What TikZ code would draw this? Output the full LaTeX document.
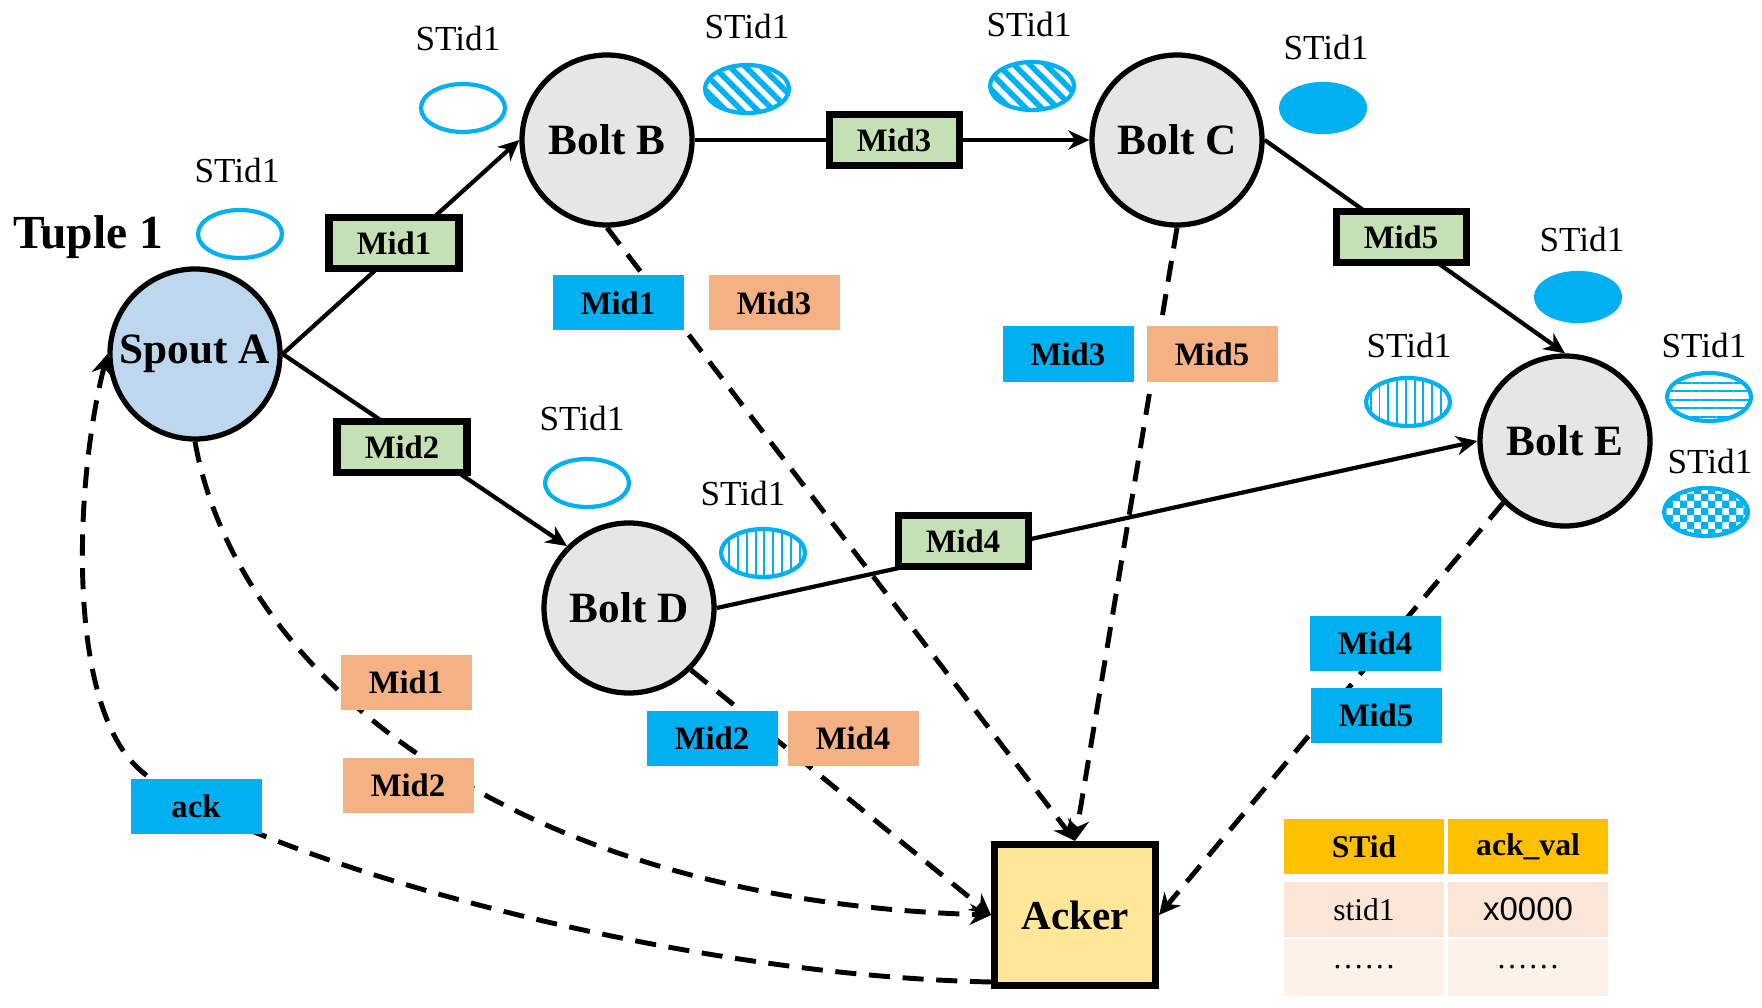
\documentclass[tikz,border=0pt]{standalone}
\usepackage{fontspec}
\setmainfont{Liberation Serif}
\newfontfamily\arialfont{Liberation Sans}
\usepackage{tikz}
\usetikzlibrary{arrows.meta,positioning,shapes.geometric,patterns,patterns.meta}
\usepackage{xcolor}
\definecolor{spoutblue}{RGB}{189,215,238}
\definecolor{boltgray}{RGB}{231,230,230}
\definecolor{midgreen}{RGB}{197,224,180}
\definecolor{ackblue}{RGB}{0,176,240}
\definecolor{ackorange}{RGB}{244,177,131}
\definecolor{ackeryellow}{RGB}{255,230,153}
\definecolor{tabhead}{RGB}{255,192,0}
\definecolor{tabrow}{RGB}{251,229,214}
\definecolor{tabrowlight}{RGB}{253,242,234}
\pgfdeclarepatternformonly{smallchecker}{\pgfqpoint{-1pt}{-1pt}}{\pgfqpoint{5pt}{5pt}}{\pgfqpoint{4pt}{4pt}}{
	\pgfpathrectangle{\pgfpointorigin}{\pgfqpoint{2.05pt}{2.05pt}}
	\pgfpathrectangle{\pgfqpoint{2pt}{2pt}}{\pgfqpoint{2.05pt}{2.05pt}}
	\pgfusepath{fill}}

\begin{document}
\begin{tikzpicture}[
	bolt/.style={circle, draw, line width=1.5pt, fill=boltgray, minimum size=1.70cm,
		inner sep=0pt, font=\fontsize{12.3}{14}\selectfont\bfseries},
	mid/.style={draw, line width=2pt, fill=midgreen, minimum width=1.30cm, minimum height=0.51cm,
		inner sep=0pt, font=\fontsize{9.3}{11}\selectfont\bfseries},
	tag/.style={minimum width=1.31cm, minimum height=0.55cm, inner sep=0pt,
		font=\fontsize{9.3}{11}\selectfont\bfseries},
	btag/.style={tag, fill=ackblue},
	otag/.style={tag, fill=ackorange},
	stid/.style={ellipse, draw=ackblue, line width=1.2pt, minimum width=0.84cm,
		minimum height=0.48cm, inner sep=0pt},
	stidtxt/.style={inner sep=0pt, font=\fontsize{10}{12}\selectfont},
	diag/.style={pattern={Lines[angle=-45, distance=3.2pt, line width=1.6pt]}, pattern color=ackblue},
	vlines/.style={pattern={Lines[angle=90, distance=2.5pt, line width=0.55pt]}, pattern color=ackblue},
	hlines/.style={pattern={Lines[angle=0, distance=2.4pt, line width=0.55pt]}, pattern color=ackblue},
	checks/.style={pattern=smallchecker, pattern color=ackblue},
	arr/.style={-{Stealth[length=6pt, width=5.5pt]}, line width=1.2pt},
	darr/.style={-{Stealth[length=6pt, width=6pt]}, line width=1.4pt, dash pattern=on 6pt off 3.6pt},
	cell/.style={minimum width=1.60cm, minimum height=0.55cm, inner sep=0pt,
		font=\fontsize{9}{11}\selectfont}
]
	\path[use as bounding box, fill=white] (0, 0) rectangle (17.62, 10.07);
	\node[bolt, fill=spoutblue] (spout) at (1.95, 6.53) {Spout A};
	\node[bolt] (boltB) at (6.07, 8.67) {Bolt B};
	\node[bolt] (boltC) at (11.77, 8.67) {Bolt C};
	\node[bolt] (boltD) at (6.29, 3.99) {Bolt D};
	\node[bolt] (boltE) at (15.65, 5.66) {Bolt E};
	\node[draw, line width=2pt, fill=ackeryellow, minimum width=1.61cm, minimum height=1.41cm,
		font=\fontsize{11.7}{14}\selectfont\bfseries] (acker) at (10.75, 0.92) {Acker};
	\node[font=\fontsize{13.5}{15}\selectfont\bfseries] (tuple) at (0.88, 7.70) {Tuple 1};

	\draw[arr] (spout.east) -- (boltB.west);
	\draw[arr] (spout.east) -- (boltD.north west);
	\draw[arr] (boltB.east) -- (boltC.west);
	\draw[arr] (boltC.east) -- (boltE.north);
	\draw[arr] (boltD.east) -- (boltE.west);

	\draw[darr] (boltB.south) -- (acker.north);
	\draw[darr] (boltC.south) -- (acker.north);
	\draw[darr] (boltD.south east) -- (acker.west);
	\draw[darr] (boltE.south west) -- (acker.east);
	\draw[darr] (spout.south) .. controls (2.35, 3.40) and (5.00, 1.07) .. (acker.west);
	\draw[darr] ([yshift=2pt]acker.south west) .. controls (6.50, 0.32) and (2.30, 1.58) .. (1.40, 2.37)
		.. controls (0.65, 3.03) and (0.75, 5.27) .. (spout.west);

	\node[mid] (mid1) at (3.94, 7.64) {Mid1};
	\node[mid] (mid2) at (4.02, 5.60) {Mid2};
	\node[mid] (mid3) at (8.94, 8.67) {Mid3};
	\node[mid] (mid4) at (9.63, 4.66) {Mid4};
	\node[mid] (mid5) at (14.01, 7.70) {Mid5};

	\node[btag] (bmid1) at (6.18, 7.04) {Mid1};
	\node[otag] (omid3) at (7.74, 7.04) {Mid3};
	\node[btag] (bmid3) at (10.68, 6.53) {Mid3};
	\node[otag] (omid5) at (12.12, 6.53) {Mid5};
	\node[otag] (omid1) at (4.06, 3.25) {Mid1};
	\node[otag] (omid2) at (4.08, 2.22) {Mid2};
	\node[btag] (bmid2) at (7.12, 2.69) {Mid2};
	\node[otag] (omid4) at (8.53, 2.69) {Mid4};
	\node[btag] (bmid4) at (13.75, 3.64) {Mid4};
	\node[btag] (bmid5) at (13.76, 2.92) {Mid5};
	\node[btag] (ack) at (1.96, 2.01) {ack};

	\node[stid] (st1) at (2.40, 7.73) {};
	\node[stid] (st2) at (4.63, 8.99) {};
	\node[stid, diag] (st3) at (7.47, 9.18) {};
	\node[stid, diag] (st4) at (10.32, 9.21) {};
	\node[stid, fill=ackblue] (st5) at (13.23, 8.99) {};
	\node[stid, fill=ackblue] (st6) at (15.78, 7.10) {};
	\node[stid, vlines] (st7) at (14.08, 6.05) {};
	\node[stid, hlines] (st8) at (17.09, 6.10) {};
	\node[stid, checks] (st9) at (17.06, 4.95) {};
	\node[stid] (st10) at (5.87, 5.24) {};
	\node[stid, vlines] (st11) at (7.63, 4.54) {};
	\foreach \i/\d/\s in {1/0.24/-0.03, 2/0.30/-0.05, 3/0.23/0, 4/0.22/-0.03, 5/0.21/0.03, 6/0.18/0.04,
		7/0.18/0.01, 8/0.13/-0.05, 9/0.11/0.04, 10/0.25/-0.05, 11/0.20/-0.20}
		\node[stidtxt, above=\d cm of st\i, xshift=\s cm] (lab\i) {STid1};

	\node[cell, fill=tabhead, font=\fontsize{9}{11}\selectfont\bfseries] (head1) at (13.64, 1.605) {STid};
	\node[cell, fill=tabhead, font=\fontsize{9}{11}\selectfont\bfseries] (head2) at (15.28, 1.605) {ack\_val};
	\node[cell, fill=tabrow] (row1a) at (13.64, 0.975) {stid1};
	\node[cell, fill=tabrow, font=\fontsize{9.4}{11}\selectfont\arialfont] (row1b) at (15.28, 0.975) {x0000};
	\node[cell, fill=tabrowlight, minimum height=0.57cm] (row2a) at (13.64, 0.395) {……};
	\node[cell, fill=tabrowlight, minimum height=0.57cm] (row2b) at (15.28, 0.395) {……};
\end{tikzpicture}
\end{document}
